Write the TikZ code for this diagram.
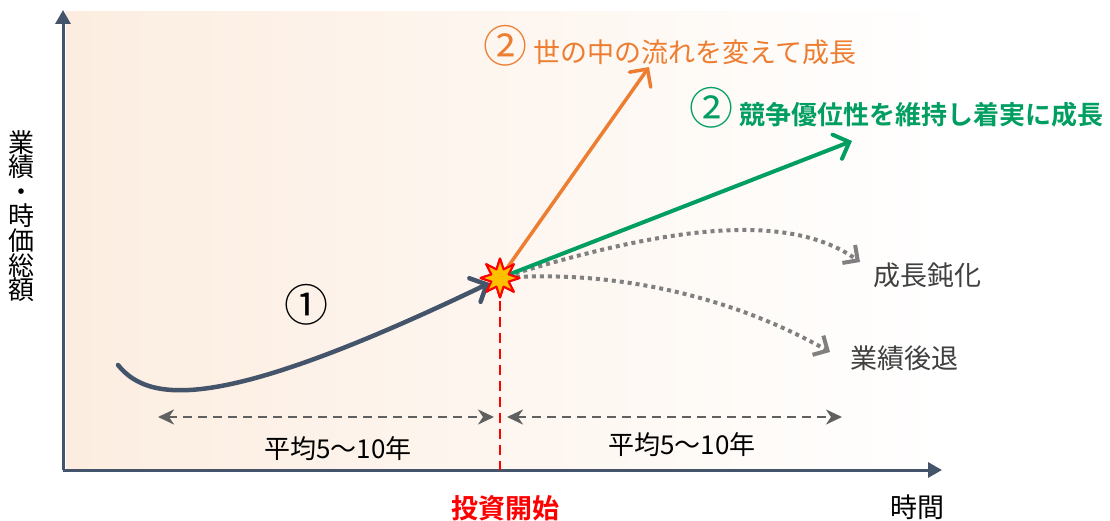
\documentclass[tikz,border=0pt]{standalone}
\usepackage{fontspec}
\setmainfont{Noto Sans CJK JP}[BoldFont={Noto Sans CJK JP Bold}]
\usetikzlibrary{arrows.meta,shapes.geometric}
\definecolor{axisblue}{RGB}{68,84,106}
\definecolor{peach}{RGB}{252,237,224}
\definecolor{trendorange}{RGB}{237,125,49}
\definecolor{trendgreen}{RGB}{0,158,96}
\definecolor{dotgray}{RGB}{128,128,128}
\definecolor{spangray}{RGB}{96,96,96}
\definecolor{burstyellow}{RGB}{255,192,0}
\begin{document}
\begin{tikzpicture}[x=1pt, y=-1pt, line join=round,
    axis/.style={draw=axisblue, line width=3pt, -{Triangle[length=14pt,width=15pt]}},
    trend/.style={line width=3.5pt, line cap=round, -{Straight Barb[length=13pt,width=26pt,line cap=round]}},
    fade/.style={draw=dotgray, line width=4pt, dash pattern=on 4pt off 4pt, -{Straight Barb[length=11pt,width=22pt]}},
    span/.style={draw=spangray, line width=2.5pt, dash pattern=on 9pt off 6pt, {Stealth[length=16pt,width=15pt,inset=5pt]}-{Stealth[length=16pt,width=15pt,inset=5pt]}},
    burststyle/.style={star, star points=8, star point ratio=2.1, minimum size=39pt, inner sep=0pt, fill=burstyellow, draw=red, line width=2pt},
    big/.style={font=\fontsize{27}{30}\selectfont},
    mid/.style={font=\fontsize{26}{28}\selectfont}]
    \useasboundingbox (0,0) rectangle (1110,521);
    \shade[left color=peach, right color=white] (66,12) rectangle (945,469);

    \coordinate (origin) at (63,470);
    \coordinate (ytop) at (63,10);
    \coordinate (xend) at (942,470);
    \coordinate (lowstart) at (118,365);
    \coordinate (orangetip) at (649,67);
    \coordinate (greentip) at (852,141);
    \coordinate (slowtip) at (860,262);
    \coordinate (droptip) at (830,352);
    \coordinate (spanAa) at (158,417);
    \coordinate (spanAb) at (494,417);
    \coordinate (spanBa) at (507,417);
    \coordinate (spanBb) at (842,417);

    \draw[axis] (origin) -- (ytop);
    \draw[axis] (origin) -- (xend);

    \node[burststyle] (burst) at (500,278) {};

    \draw[red, line width=2.5pt, dash pattern=on 10pt off 6pt] (burst.south) -- (burst |- origin);
    \draw[trend, draw=axisblue, line width=4.5pt] (lowstart) .. controls (150,405) and (225,410) .. (burst);
    \draw[fade] (burst.center) .. controls (640,235) and (780,205) .. (slowtip);
    \draw[fade] (burst.center) .. controls (600,270) and (720,290) .. (droptip);
    \draw[trend, draw=trendorange] (burst.center) -- (orangetip);
    \draw[trend, draw=trendgreen, line width=4pt] (burst.center) -- (greentip);
    \node[burststyle] at (burst) {};

    \draw[span] (spanAa) -- (spanAb);
    \draw[span] (spanBa) -- (spanBb);

    \node[font=\fontsize{44}{44}\selectfont] (stepone) at (306,305) {①};
    \node[anchor=west, big, text=trendorange] (changelabel) at (480,46) {{\fontsize{44}{44}\selectfont ②}\hspace{6pt}世の中の流れを変えて成長};
    \node[anchor=west, text=trendgreen, font=\fontsize{26}{30}\selectfont\bfseries] (steadylabel) at (686,108) {{\fontsize{44}{44}\selectfont\mdseries ②}\hspace{6pt}競争優位性を維持し着実に成長};
    \node[big, text=black!75] (slowlabel) at (927,275) {成長鈍化};
    \node[big, text=black!75] (droplabel) at (904,358) {業績後退};
    \node[mid] (spanAlabel) at (338,449) {平均5～10年};
    \node[mid] (spanBlabel) at (682,445) {平均5～10年};
    \node[text=red, font=\fontsize{27}{30}\selectfont\bfseries] (startlabel) at (505,508) {投資開始};
    \node[big] (timelabel) at (917,507) {時間};
    \node[align=center, font=\fontsize{26}{24.6}\selectfont] (ylabel) at (22,216) {業\\績\\・\\時\\価\\総\\額};
\end{tikzpicture}
\end{document}
